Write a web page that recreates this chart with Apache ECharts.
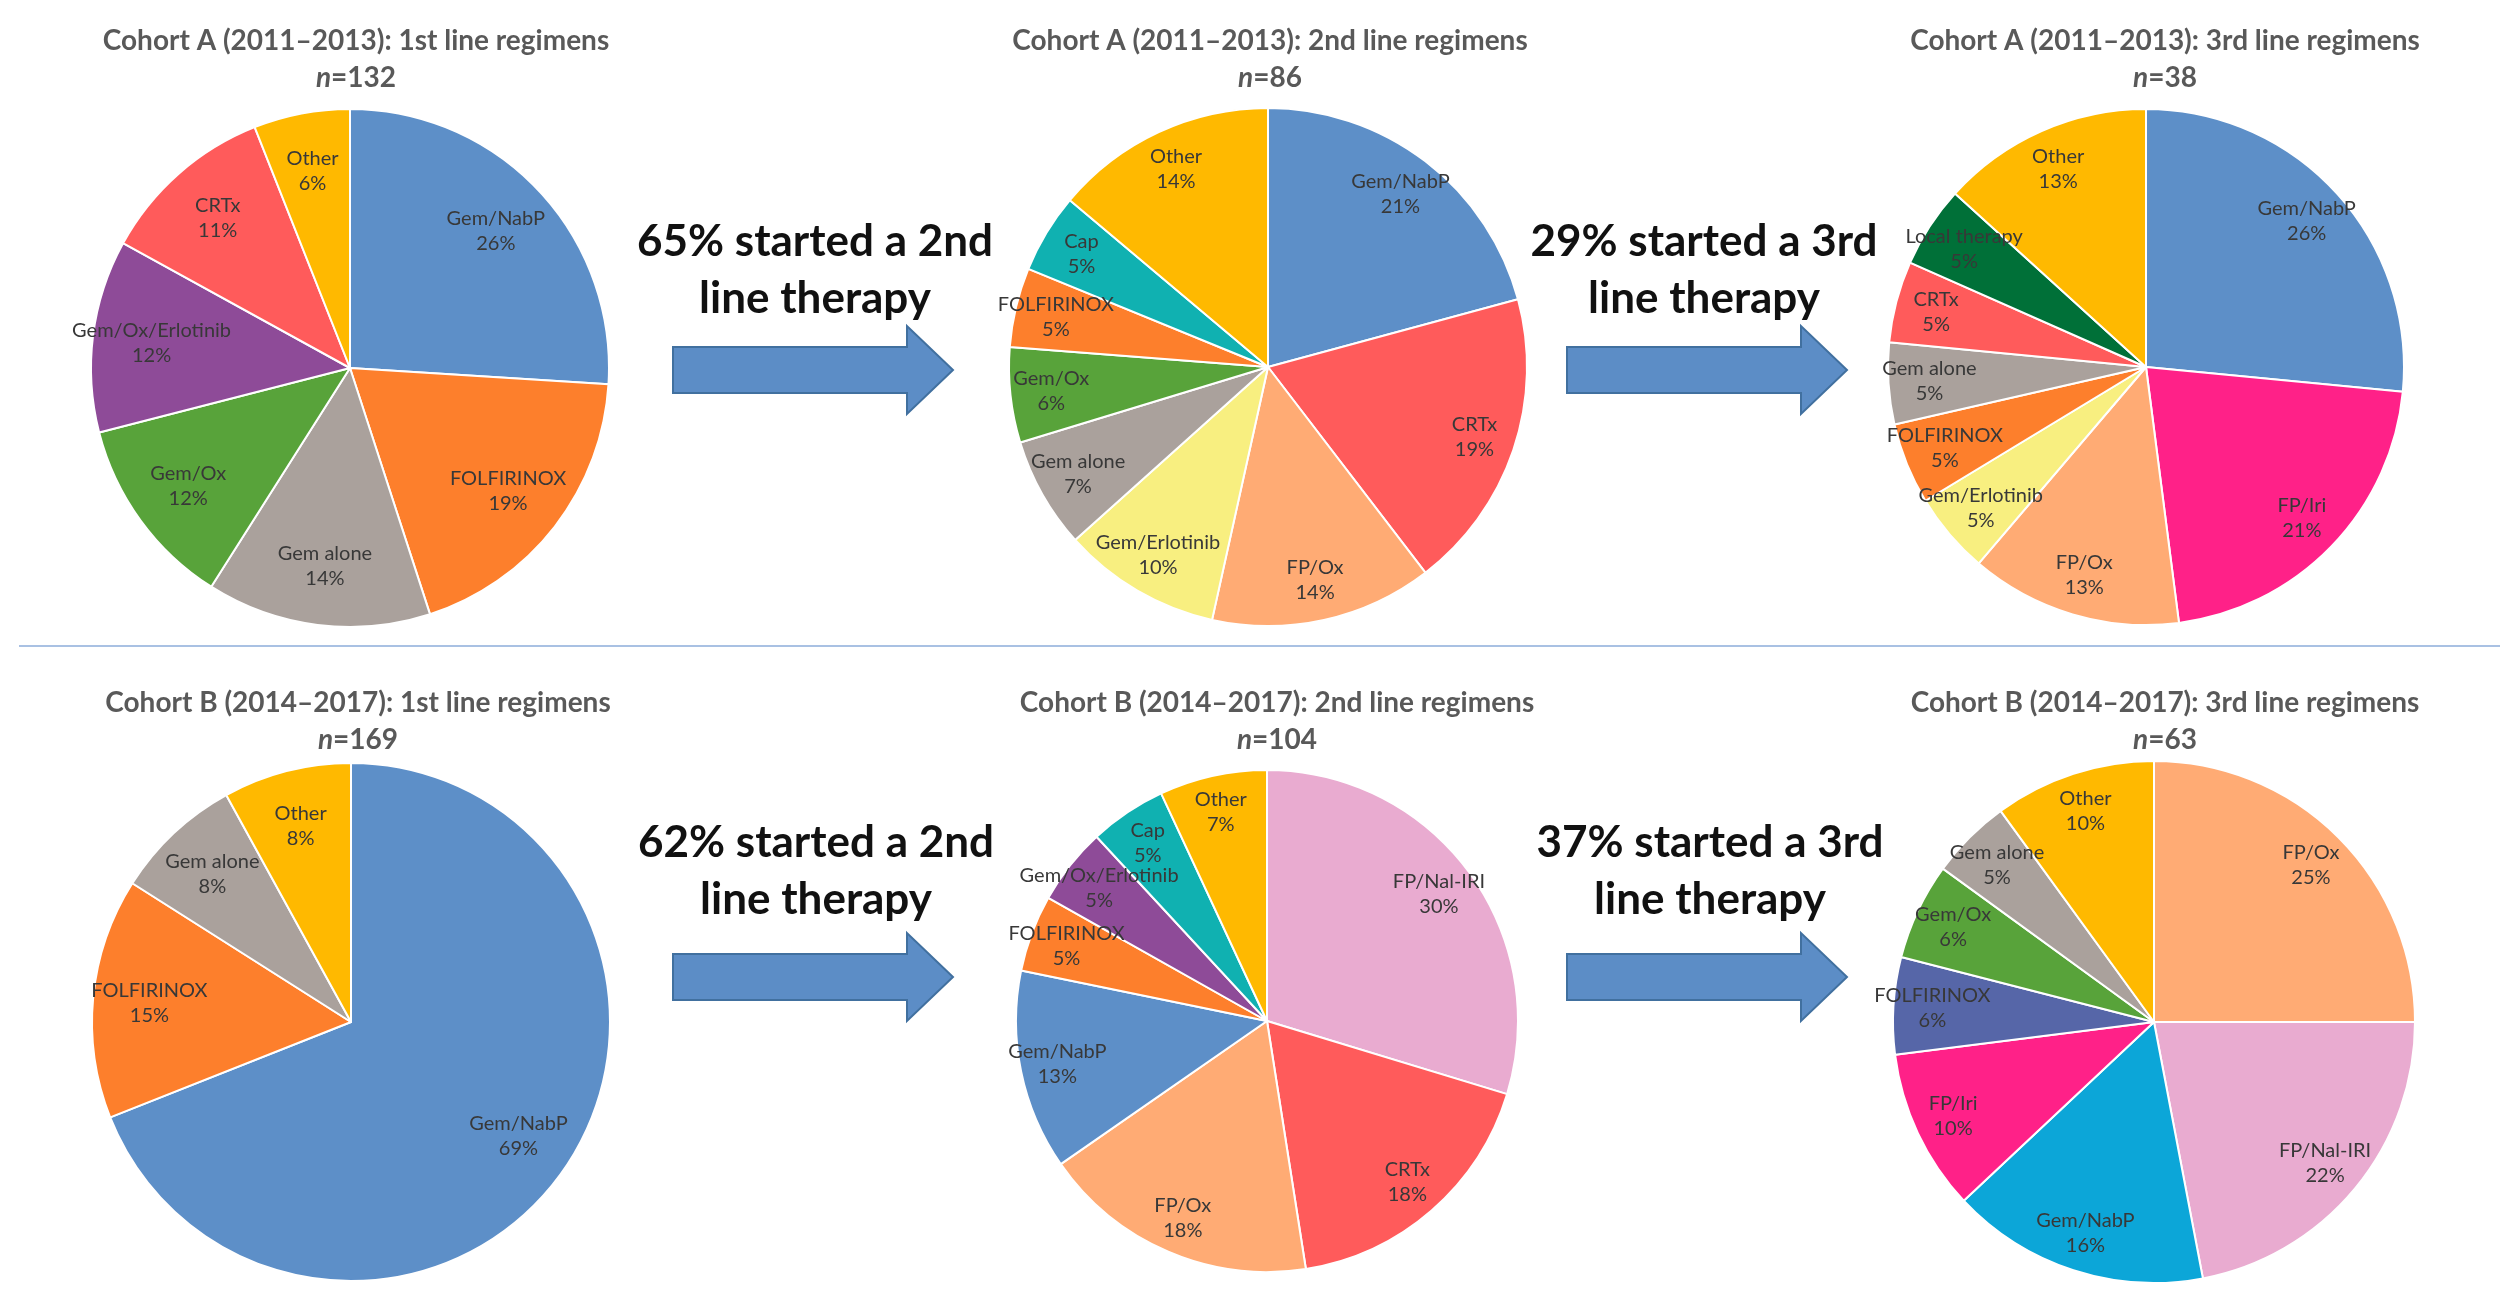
<!DOCTYPE html>
<html>
<head>
<meta charset="utf-8">
<title>Regimens by treatment line, cohorts A and B</title>
<script src="https://cdn.jsdelivr.net/npm/echarts@6/dist/echarts.min.js"></script>
<style>
  html, body { margin: 0; padding: 0; background: #fff; }
  #chart { width: 2518px; height: 1306px; }
</style>
</head>
<body>
<div id="chart"></div>
<script>
// slices go clockwise from 12 o'clock, values are the printed percentages
const a1Names = ['Gem/NabP', 'FOLFIRINOX', 'Gem alone', 'Gem/Ox', 'Gem/Ox/Erlotinib', 'CRTx', 'Other'];
const a1Values = [26, 19, 14, 12, 12, 11, 6];

const a2Names = ['Gem/NabP', 'CRTx', 'FP/Ox', 'Gem/Erlotinib', 'Gem alone', 'Gem/Ox', 'FOLFIRINOX', 'Cap', 'Other'];
const a2Values = [21, 19, 14, 10, 7, 6, 5, 5, 14];

const a3Names = ['Gem/NabP', 'FP/Iri', 'FP/Ox', 'Gem/Erlotinib', 'FOLFIRINOX', 'Gem alone', 'CRTx', 'Local therapy', 'Other'];
const a3Values = [26, 21, 13, 5, 5, 5, 5, 5, 13];

const b1Names = ['Gem/NabP', 'FOLFIRINOX', 'Gem alone', 'Other'];
const b1Values = [69, 15, 8, 8];

const b2Names = ['FP/Nal-IRI', 'CRTx', 'FP/Ox', 'Gem/NabP', 'FOLFIRINOX', 'Gem/Ox/Erlotinib', 'Cap', 'Other'];
const b2Values = [30, 18, 18, 13, 5, 5, 5, 7];

const b3Names = ['FP/Ox', 'FP/Nal-IRI', 'Gem/NabP', 'FP/Iri', 'FOLFIRINOX', 'Gem/Ox', 'Gem alone', 'Other'];
const b3Values = [25, 22, 16, 10, 6, 6, 5, 10];

const pieTitles = [
  'Cohort A (2011\u20132013): 1st line regimens',
  'Cohort A (2011\u20132013): 2nd line regimens',
  'Cohort A (2011\u20132013): 3rd line regimens',
  'Cohort B (2014\u20132017): 1st line regimens',
  'Cohort B (2014\u20132017): 2nd line regimens',
  'Cohort B (2014\u20132017): 3rd line regimens'
];
const pieN = [132, 86, 38, 169, 104, 63];

const stepTexts = [
  '65% started a 2nd\nline therapy',
  '29% started a 3rd\nline therapy',
  '62% started a 2nd\nline therapy',
  '37% started a 3rd\nline therapy'
];

const colorOf = {
  'Gem/NabP': '#5d8fc8',
  'FOLFIRINOX': '#fd7f2c',
  'Gem alone': '#aaa19c',
  'Gem/Ox': '#58a33a',
  'Gem/Ox/Erlotinib': '#8e4b98',
  'CRTx': '#ff5b5b',
  'Other': '#ffb900',
  'Cap': '#10b1b1',
  'Gem/Erlotinib': '#f8ef80',
  'FP/Ox': '#ffab74',
  'Local therapy': '#007038',
  'FP/Iri': '#ff2188',
  'FP/Nal-IRI': '#e9abd0'
};
// the last pie uses its own shades for two regimens
const b3Colors = { 'Gem/NabP': '#0ca6d8', 'FOLFIRINOX': '#5666a8' };

// cx, cy, r in px; labelAt = label distance from centre as share of r
const pies = [
  { names: a1Names, values: a1Values, cx: 350, cy: 368, r: 259, labelAt: 0.76, tx: 356, ty: 41 },
  { names: a2Names, values: a2Values, cx: 1268, cy: 367, r: 259, labelAt: 0.83, tx: 1270, ty: 41 },
  { names: a3Names, values: a3Values, cx: 2146, cy: 367, r: 258, labelAt: 0.83, tx: 2165, ty: 41 },
  { names: b1Names, values: b1Values, cx: 351, cy: 1022, r: 259, labelAt: 0.77, tx: 358, ty: 703 },
  { names: b2Names, values: b2Values, cx: 1267, cy: 1021, r: 251, labelAt: 0.84, tx: 1277, ty: 703 },
  { names: b3Names, values: b3Values, cx: 2154, cy: 1022, r: 261, labelAt: 0.84, tx: 2165, ty: 703, colors: b3Colors }
];

const FONT = 'Lato, "Open Sans", "Liberation Sans", sans-serif';

const series = [];
pies.forEach(function (p, i) {
  const data = p.names.map(function (n, k) {
    return { name: n, value: p.values[k], itemStyle: { color: (p.colors && p.colors[n]) || colorOf[n] } };
  });
  // the coloured pie
  series.push({
    type: 'pie',
    center: [p.cx, p.cy],
    radius: p.r,
    startAngle: 90,
    clockwise: true,
    data: data,
    label: { show: false },
    labelLine: { show: false },
    itemStyle: { borderColor: '#ffffff', borderWidth: 2 },
    emphasis: { disabled: true },
    silent: true,
    animation: false
  });
  // transparent ring on top, only there to put the labels further out
  series.push({
    type: 'pie',
    center: [p.cx, p.cy],
    radius: [Math.round((2 * p.labelAt - 1) * p.r), p.r],
    startAngle: 90,
    clockwise: true,
    data: p.names.map(function (n, k) { return { name: n, value: p.values[k] }; }),
    itemStyle: { color: 'rgba(0,0,0,0)', borderWidth: 0 },
    label: {
      show: true,
      position: 'inside',
      formatter: '{b}\n{c}%',
      color: '#383838',
      fontFamily: FONT,
      fontSize: 20,
      lineHeight: 25
    },
    labelLayout: { hideOverlap: false },
    labelLine: { show: false },
    emphasis: { disabled: true },
    silent: true,
    animation: false,
    z: 3
  });
});

const graphics = [];

// chart titles
pies.forEach(function (p, i) {
  graphics.push({
    type: 'text', x: p.tx, y: p.ty, silent: true,
    style: {
      text: pieTitles[i], fill: '#595959', fontFamily: FONT, fontWeight: 'bold', fontSize: 28,
      textAlign: 'center', textVerticalAlign: 'middle'
    }
  });
  graphics.push({
    type: 'text', x: p.tx, y: p.ty + 37, silent: true,
    style: {
      text: '{it|n}{nm|=' + pieN[i] + '}',
      textAlign: 'center', textVerticalAlign: 'middle',
      rich: {
        it: { fill: '#595959', fontFamily: FONT, fontWeight: 'bold', fontStyle: 'italic', fontSize: 28 },
        nm: { fill: '#595959', fontFamily: FONT, fontWeight: 'bold', fontSize: 28 }
      }
    }
  });
});

// arrows between the pies
function arrow(x0, cy) {
  const len = 280, body = 23, head = 44, headLen = 46;
  const xb = x0 + len - headLen;
  return {
    type: 'polygon', silent: true,
    shape: { points: [
      [x0, cy - body], [xb, cy - body], [xb, cy - head], [x0 + len, cy],
      [xb, cy + head], [xb, cy + body], [x0, cy + body]
    ] },
    style: { fill: '#5c8dc6', stroke: '#41709f', lineWidth: 2 }
  };
}
const stepPos = [
  { tx: 815, ty: 270, ax: 673, ay: 370 },
  { tx: 1704, ty: 270, ax: 1567, ay: 370 },
  { tx: 816, ty: 871, ax: 673, ay: 977 },
  { tx: 1710, ty: 871, ax: 1567, ay: 977 }
];
stepPos.forEach(function (s, i) {
  graphics.push({
    type: 'text', x: s.tx, y: s.ty, silent: true,
    style: {
      text: stepTexts[i], fill: '#111111', fontFamily: FONT, fontWeight: 'bold', fontSize: 44,
      lineHeight: 57, textAlign: 'center', textVerticalAlign: 'middle'
    }
  });
  graphics.push(arrow(s.ax, s.ay));
});

// divider between the cohorts
graphics.push({
  type: 'line', silent: true,
  shape: { x1: 19, y1: 646, x2: 2500, y2: 646 },
  style: { stroke: '#a9c1e3', lineWidth: 2 }
});

const chart = echarts.init(document.getElementById('chart'), null, { renderer: 'canvas' });
chart.setOption({
  backgroundColor: '#ffffff',
  animation: false,
  series: series,
  graphic: graphics
});
</script>
</body>
</html>
